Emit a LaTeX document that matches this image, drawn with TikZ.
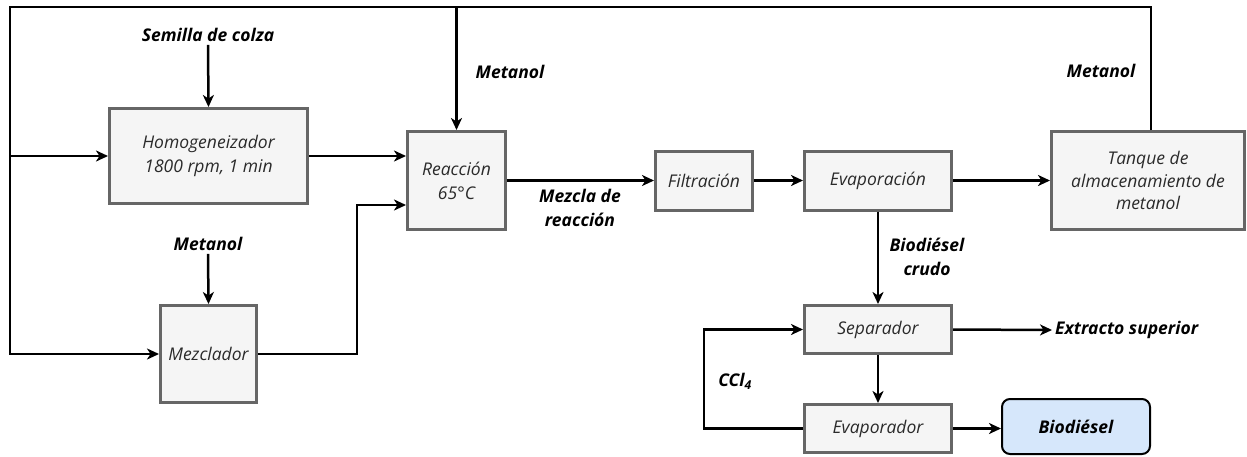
\documentclass[tikz,border=0pt]{standalone}
\usepackage{fontspec}
\setmainfont{Open Sans}
\usetikzlibrary{arrows.meta,calc}
\definecolor{boxline}{HTML}{666666}
\definecolor{boxfill}{HTML}{F5F5F5}
\definecolor{boxtext}{HTML}{2A2A2A}
\definecolor{prodfill}{HTML}{D6E7FB}
\begin{document}
\begin{tikzpicture}[x=1pt,y=-1pt,
  unit/.style={draw=boxline, line width=3pt, fill=boxfill, text=boxtext,
    font=\itshape\fontsize{17.5}{24}\selectfont, align=center, inner sep=0pt},
  product/.style={draw=black, line width=2pt, fill=prodfill, rounded corners=8pt,
    font=\bfseries\itshape\fontsize{17.5}{24}\selectfont, align=center, inner sep=0pt,
    minimum width=148pt, minimum height=55pt},
  lbl/.style={font=\bfseries\itshape\fontsize{17.5}{24}\selectfont, align=center, inner sep=3pt},
  flow/.style={line width=2.5pt, -{Stealth[length=12pt,width=11pt,inset=3.5pt]}}]
\useasboundingbox (0,0) rectangle (1247,456);

% process units
\node[unit, minimum width=198pt, minimum height=95pt] (homog) at (208.5,156) {Homogeneizador\\1800 rpm, 1 min};
\node[unit, minimum width=98pt, minimum height=98pt] (reac) at (456.5,180.5) {Reacción\\65°C};
\node[unit, minimum width=96pt, minimum height=97pt] (mezc) at (208.5,354) {Mezclador};
\node[unit, minimum width=97pt, minimum height=59pt] (filt) at (704,180.5) {Filtración};
\node[unit, minimum width=147pt, minimum height=59pt] (evap) at (878,180.5) {Evaporación};
\node[unit, minimum width=193pt, minimum height=98pt, font=\itshape\fontsize{17.5}{22.5}\selectfont] (tanque) at (1148,180.5) {Tanque de\\almacenamiento de\\metanol};
\node[unit, minimum width=147pt, minimum height=48pt] (sep) at (878,329.5) {Separador};
\node[unit, minimum width=147pt, minimum height=48pt] (evapr) at (878,428.5) {Evaporador};
\node[product] (bio) at (1076,426.5) {Biodiésel};

% stream labels
\node[lbl] (semilla) at (208,35) {Semilla de colza};
\node[lbl] (met2) at (208,244) {Metanol};
\node[lbl] (met1) at (510,72) {Metanol};
\node[lbl] (met3) at (1101,71) {Metanol};
\node[lbl] (mezla) at (580,208) {Mezcla de\\reacción};
\node[lbl] (crudo) at (927,257) {Biodiésel\\crudo};
\node[lbl, anchor=west] (ext) at (1052,330) {Extracto superior};
\node[lbl] (ccl) at (735,381) {CCl\textsubscript{4}};

% routing corners
\coordinate (tl) at (10,7);
\coordinate (mz) at (357,354);
\coordinate (cl) at (704,428.5);

% methanol recycle loop
\draw[flow] ([xshift=3pt]tanque.north) |- (tl) |- (mezc.west);
\draw[flow] (tl |- homog.west) -- (homog.west);
\draw[flow] (tl -| reac.north) -- (reac.north);

% feeds
\draw[flow] (semilla.south) -- (homog.north);
\draw[flow] (met2.south) -- (mezc.north);

% main line
\draw[flow] (homog.east) -- (homog.east -| reac.west);
\draw[flow] (mezc.east) -- (mz) |- ([yshift=-24.5pt]reac.west);
\draw[flow] (reac.east) -- (filt.west);
\draw[flow] (filt.east) -- (evap.west);
\draw[flow] (evap.east) -- (tanque.west);
\draw[flow] (evap.south) -- (sep.north);
\draw[flow] (sep.east) -- (ext.west);
\draw[flow] (sep.south) -- (evapr.north);
\draw[flow] (evapr.east) -- (evapr.east -| bio.west);
\draw[flow] (evapr.west) -- (cl) |- (sep.west);
\end{tikzpicture}
\end{document}
